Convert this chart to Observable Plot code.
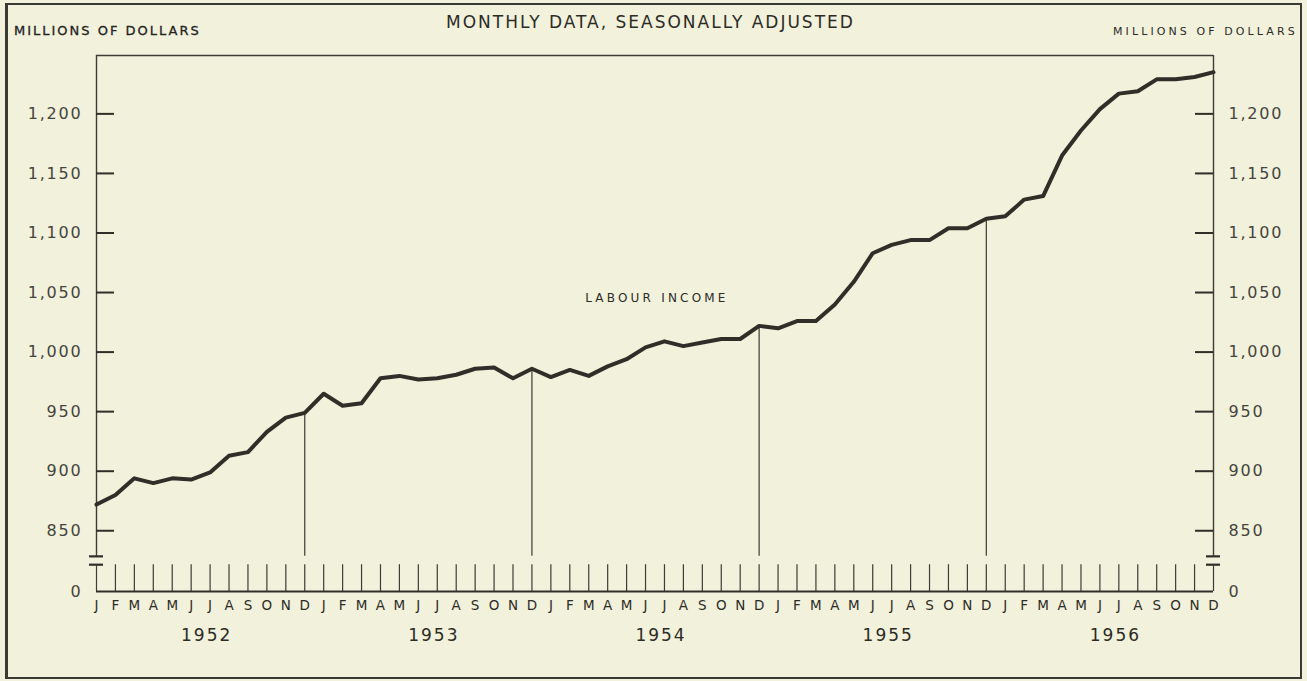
<!DOCTYPE html>
<html>
<head>
<meta charset="utf-8">
<script src="https://cdn.jsdelivr.net/npm/d3@7"></script>
<script src="https://cdn.jsdelivr.net/npm/@observablehq/plot@0.6"></script>
<style>
  html, body { margin: 0; padding: 0; background: #f2f1db; }
  #wrap { position: relative; width: 1307px; height: 681px; overflow: hidden; background: #f2f1db;
          font-family: "DejaVu Sans", sans-serif; color: #2c2b26; }
  #frame { position: absolute; left: 5px; top: 3px; width: 1297px; height: 676px;
           border: 2px solid #3a3a34; border-left-width: 3px; box-sizing: border-box; }
  .hdr { position: absolute; white-space: nowrap; line-height: 1; }
  #hl { left: 14px; top: 24px; font-size: 13px; letter-spacing: 2px; color: #24231f; -webkit-text-stroke: 0.3px #24231f; }
  #hr { left: 1113px; top: 26px; font-size: 11px; letter-spacing: 3.1px; color: #2c2b26; }
  #title { left: 446px; top: 13.5px; font-size: 17px; letter-spacing: 2px; color: #2c2b26; }
  #chart { position: absolute; left: 0; top: 0; }
  g[aria-label="y-axis tick label"] text { letter-spacing: 1.8px; }
  g[aria-description="years"] text { letter-spacing: 2px; }
  g[aria-description="series label"] text { letter-spacing: 3.2px; }
</style>
</head>
<body>
<div id="wrap">
  <div id="frame"></div>
  <div id="chart"></div>
  <div class="hdr" id="hl">MILLIONS OF DOLLARS</div>
  <div class="hdr" id="title">MONTHLY DATA, SEASONALLY ADJUSTED</div>
  <div class="hdr" id="hr">MILLIONS OF DOLLARS</div>
</div>
<script>
// ---- data ----
const years = [1952, 1953, 1954, 1955, 1956];
const monthLetters = ["J","F","M","A","M","J","J","A","S","O","N","D"];
// Labour income, millions of dollars, monthly, seasonally adjusted (Jan 1952 - Dec 1956)
const labourIncome = [
  872, 880, 894, 890, 894, 893, 899, 913, 916, 933, 945, 949,
  965, 955, 957, 978, 980, 977, 978, 981, 986, 987, 978, 986,
  979, 985, 980, 988, 994, 1004, 1009, 1005, 1008, 1011, 1011, 1022,
  1020, 1026, 1026, 1040, 1059, 1083, 1090, 1094, 1094, 1104, 1104, 1112,
  1114, 1128, 1131, 1165, 1186, 1204, 1217, 1219, 1229, 1229, 1231, 1235
];
const yTicks = [850, 900, 950, 1000, 1050, 1100, 1150, 1200];
const seriesLabels = [{label: "LABOUR INCOME", month: 29.6, value: 1045}];

// axis layout values (broken axis: bottom line is labelled 0)
const yFloor = 799, yTop = 1249, breakHigh = 828.5, breakLow = 821.5;

const table = labourIncome.map((v, i) => ({i, v, year: years[Math.floor(i / 12)], month: i % 12}));
const lastIndex = labourIncome.length - 1;
const decembers = table.filter(d => d.month === 11 && d.i < lastIndex);
const yLabelTicks = [yFloor, ...yTicks];
const yFmt = d => d === yFloor ? "0" : d3.format(",")(d);
const ink = "#2f2e28";

const chart = Plot.plot({
  width: 1307,
  height: 681,
  marginLeft: 96,
  marginRight: 94,
  marginTop: 55,
  marginBottom: 90,
  style: {background: "transparent", fontFamily: "DejaVu Sans, sans-serif", color: ink},
  x: {type: "linear", domain: [0, lastIndex]},
  y: {type: "linear", domain: [yFloor, yTop]},
  marks: [
    // plot frame: top line and axis lines above the break
    Plot.ruleY([yTop], {stroke: "#3d3c36", strokeWidth: 1.3}),
    Plot.ruleX([0, lastIndex], {y1: breakHigh, y2: yTop, stroke: "#3d3c36", strokeWidth: 1.4}),
    // break marks
    Plot.ruleY([breakHigh, breakLow], {x1: 0, x2: 0, insetLeft: -7, insetRight: -7, stroke: ink, strokeWidth: 2.2}),
    Plot.ruleY([breakHigh, breakLow], {x1: lastIndex, x2: lastIndex, insetLeft: -7, insetRight: -7, stroke: ink, strokeWidth: 2.2}),
    // month ticks and baseline
    Plot.ruleX(table, {x: "i", y1: yFloor, y2: breakLow, stroke: "#3d3c36", strokeWidth: 1.2}),
    Plot.ruleY([yFloor], {stroke: ink, strokeWidth: 2.2}),
    // y ticks pointing inward from both axes
    Plot.ruleY(yTicks, {x1: 0, x2: 0, insetRight: -18, stroke: "#2f2e28", strokeWidth: 2}),
    Plot.ruleY(yTicks, {x1: lastIndex, x2: lastIndex, insetLeft: -18, stroke: "#2f2e28", strokeWidth: 2}),
    // y labels
    Plot.axisY(yLabelTicks, {anchor: "left", tickSize: 0, tickPadding: 14, tickFormat: yFmt, fontSize: 16, fill: "#45443e", label: null}),
    Plot.axisY(yLabelTicks, {anchor: "right", tickSize: 0, tickPadding: 15, tickFormat: yFmt, fontSize: 16, fill: "#45443e", label: null}),
    // month labels
    Plot.axisX(d3.range(labourIncome.length), {anchor: "bottom", tickSize: 0, tickPadding: 9, tickFormat: i => monthLetters[i % 12], fontSize: 13.5, fill: "#2c2b26", label: null}),
    // year labels
    Plot.text(years, {x: (d, k) => k * 12 + 5.5, frameAnchor: "bottom", dy: 49, dx: 6, text: d => String(d), fontSize: 17, fill: "#2c2b26", ariaDescription: "years"}),
    // December drop lines
    Plot.ruleX(decembers, {x: "i", y1: breakHigh, y2: "v", stroke: "#3d3c36", strokeWidth: 1.2}),
    // series
    Plot.line(table, {x: "i", y: "v", stroke: ink, strokeWidth: 4, strokeLinejoin: "round", strokeLinecap: "round"}),
    Plot.text(seriesLabels, {x: "month", y: "value", text: "label", fontSize: 12, fill: "#2c2b26", ariaDescription: "series label"})
  ]
});
document.getElementById("chart").appendChild(chart);
</script>
</body>
</html>
